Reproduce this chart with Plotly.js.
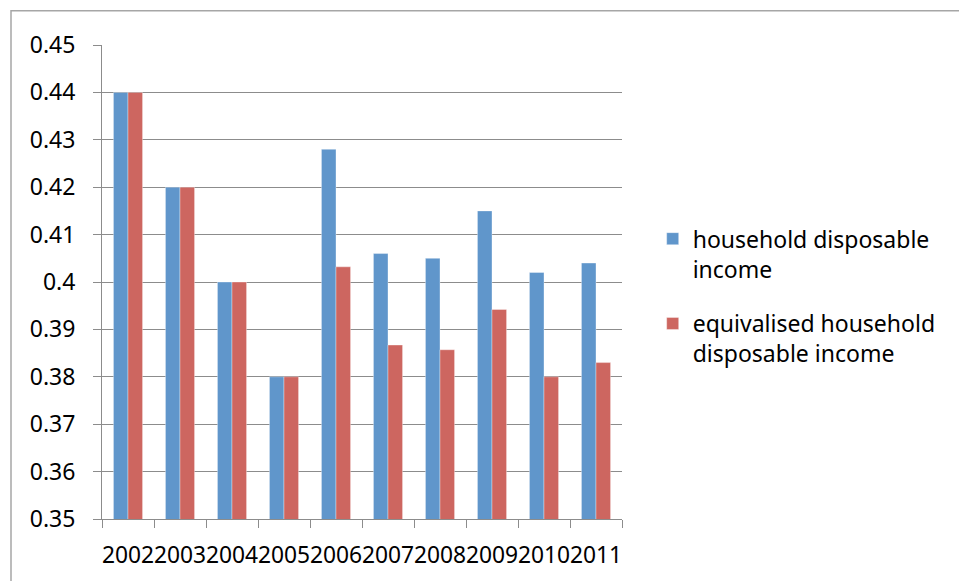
<!DOCTYPE html>
<html>
<head>
<meta charset="utf-8">
<script src="https://cdn.plot.ly/plotly-3.0.1.min.js"></script>
<style>
  html, body { margin: 0; padding: 0; background: #ffffff; }
  #chart { width: 959px; height: 581px; }
</style>
</head>
<body>
<div id="chart"></div>
<script>
// Gini-style coefficients by year
const years = ["2002", "2003", "2004", "2005", "2006", "2007", "2008", "2009", "2010", "2011"];
const householdIncome = [0.44, 0.42, 0.40, 0.38, 0.428, 0.406, 0.405, 0.415, 0.402, 0.404];
const equivalisedIncome = [0.44, 0.42, 0.40, 0.38, 0.4032, 0.3867, 0.3857, 0.3942, 0.380, 0.383];
const seriesNames = ["household disposable<br>income", "equivalised household<br>disposable income"];
const yTicks = [0.35, 0.36, 0.37, 0.38, 0.39, 0.40, 0.41, 0.42, 0.43, 0.44, 0.45];
const yTickText = ["0.35", "0.36", "0.37", "0.38", "0.39", "0.4", "0.41", "0.42", "0.43", "0.44", "0.45"];

const FONT = "'Noto Sans', 'Open Sans', sans-serif";
const BLUE = "#6096CB";
const RED = "#CD6660";

const traces = [
  {
    type: "bar", x: years, y: householdIncome, name: seriesNames[0],
    legendgroup: "a",
    marker: { color: BLUE, line: { color: "rgba(255,255,255,0.35)", width: 1 } }
  },
  {
    type: "bar", x: years, y: equivalisedIncome, name: seriesNames[1],
    legendgroup: "b",
    marker: { color: RED, line: { color: "rgba(255,255,255,0.35)", width: 1 } }
  }
];

const layout = {
  width: 959, height: 581,
  margin: { l: 102, r: 337, t: 45, b: 62, pad: 0 },
  paper_bgcolor: "#ffffff", plot_bgcolor: "#ffffff",
  font: { family: FONT, color: "#000000", size: 23 },
  barmode: "group",
  bargap: 0.44,
  bargroupgap: 0,
  showlegend: true,
  legend: {
    x: 1.059, xanchor: "left", y: 0.47, yanchor: "middle",
    valign: "top",
    font: { family: FONT, size: 23, color: "#000000" },
    tracegroupgap: 22,
    bgcolor: "rgba(0,0,0,0)", borderwidth: 0
  },
  xaxis: {
    type: "category",
    tickson: "boundaries",
    tickangle: 0,
    ticks: "outside", ticklen: 8, tickcolor: "#8c8c8c", tickwidth: 1,
    showline: true, linecolor: "#8c8c8c", linewidth: 1,
    showgrid: false, zeroline: false,
    tickfont: { family: FONT, size: 22.8, color: "#000000" },
    ticklabelstandoff: 16
  },
  yaxis: {
    range: [0.35, 0.45],
    tickvals: yTicks, ticktext: yTickText,
    ticks: "outside", ticklen: 8, tickcolor: "#8c8c8c", tickwidth: 1,
    showline: true, linecolor: "#8c8c8c", linewidth: 1,
    showgrid: true, gridcolor: "#8c8c8c", gridwidth: 1,
    zeroline: false,
    tickfont: { family: FONT, size: 23, color: "#000000" },
    ticklabelstandoff: 13
  },
  shapes: [
    // chart-area frame
    {
      type: "rect", xref: "paper", yref: "paper",
      x0: -0.175, x1: 1.66, y0: -0.16, y1: 1.072,
      line: { color: "#a6a6a6", width: 1.5 }, fillcolor: "rgba(0,0,0,0)", layer: "below"
    }
  ]
};

Plotly.newPlot("chart", traces, layout, { displayModeBar: false, staticPlot: true });
</script>
</body>
</html>
